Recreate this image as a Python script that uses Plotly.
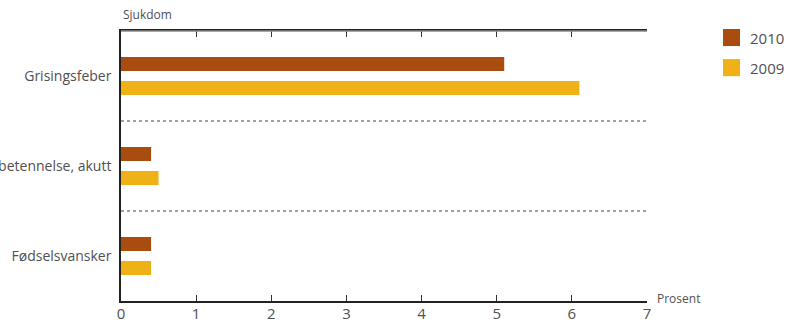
import plotly.graph_objects as go

# Sjukdomar (kategoriar) og prosentdel per år
sjukdomar = ["Grisingsfeber", "Jurbetennelse, akutt", "Fødselsvansker"]
prosent_2010 = [5.1, 0.4, 0.4]
prosent_2009 = [6.1, 0.5, 0.4]
aar = ["2010", "2009"]
fargar = ["#A94C10", "#EFB115"]
x_ticks = [0, 1, 2, 3, 4, 5, 6, 7]

FONT = "Open Sans"
TEXT = "#505050"

fig = go.Figure()
for namn, verdiar, farge in zip(aar, [prosent_2010, prosent_2009], fargar):
    fig.add_trace(go.Bar(
        y=sjukdomar, x=verdiar, name=namn, orientation="h",
        marker=dict(color=farge, line=dict(width=0)),
        showlegend=False, hoverinfo="skip",
    ))

shapes = []
# stipla skiljelinjer mellom kategoriane
for i in range(len(sjukdomar) - 1):
    shapes.append(dict(type="line", xref="paper", yref="y",
                       x0=0, x1=1, y0=i + 0.5, y1=i + 0.5,
                       line=dict(color="#444", width=1, dash="3px,3px")))
# grå toppline
shapes.append(dict(type="line", xref="paper", yref="paper",
                   x0=0, x1=1, y0=1, y1=1, layer="above",
                   line=dict(color="#8a8a8a", width=1.5)))

annotations = [
    dict(text="Sjukdom", xref="paper", yref="paper", x=0, y=1,
         xanchor="left", yanchor="bottom", yshift=6, showarrow=False,
         font=dict(family=FONT, size=12, color=TEXT)),
    dict(text="Prosent", xref="paper", yref="paper", x=1, y=0,
         xanchor="left", yanchor="middle", xshift=8, yshift=3, showarrow=False,
         font=dict(family=FONT, size=12, color=TEXT)),
]

# eigen forklaring med store fargeruter
for k, (namn, farge) in enumerate(zip(aar, fargar)):
    y_top = 324 - 30 - 30 * k
    shapes.append(dict(type="rect", xref="paper", yref="paper",
                       x0=(723 - 121) / 526, x1=(740 - 121) / 526,
                       y0=(y_top - 17 - 23) / 269, y1=(y_top - 23) / 269,
                       fillcolor=farge, line=dict(width=0)))
    annotations.append(dict(text=namn, xref="paper", yref="paper",
                            x=(748 - 121) / 526, y=(y_top - 8.5 - 23) / 269,
                            xanchor="left", yanchor="middle", showarrow=False,
                            font=dict(family=FONT, size=15, color=TEXT)))

fig.update_layout(
    width=789, height=324,
    margin=dict(l=121, r=142, t=31, b=23),
    paper_bgcolor="white", plot_bgcolor="white",
    barmode="group", bargap=0.4667, bargroupgap=0.4167,
    shapes=shapes, annotations=annotations,
    font=dict(family=FONT, color=TEXT),
)
fig.update_xaxes(
    range=[0, 7], tickvals=x_ticks, ticktext=[str(v) for v in x_ticks],
    showgrid=False, zeroline=False, automargin=False,
    showline=True, linecolor="#222", linewidth=1.5, mirror="ticks",
    ticks="inside", ticklen=6, tickcolor="#333", tickwidth=1,
    ticklabelstandoff=-2,
    tickfont=dict(family=FONT, size=15, color=TEXT),
)
fig.update_yaxes(
    type="category", categoryorder="array", categoryarray=sjukdomar,
    range=[2.5, -0.5], showgrid=False, zeroline=False, automargin=False,
    showline=True, linecolor="#222", linewidth=1.5,
    ticks="", ticklabelstandoff=5,
    tickfont=dict(family=FONT, size=14, color=TEXT),
)

fig.write_html("out.html")
